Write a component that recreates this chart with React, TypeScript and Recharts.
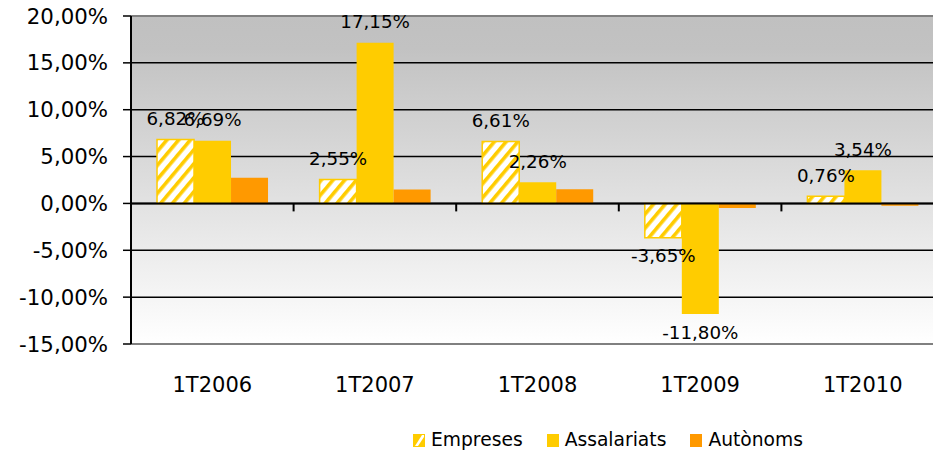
import React from 'react';
import {
  BarChart,
  Bar,
  XAxis,
  YAxis,
  CartesianGrid,
  ReferenceLine,
  Legend,
  LabelList,
} from 'recharts';

const categories = ['1T2006', '1T2007', '1T2008', '1T2009', '1T2010'];
const empreses = [6.82, 2.55, 6.61, -3.65, 0.76];
const assalariats = [6.69, 17.15, 2.26, -11.8, 3.54];
const autonoms = [2.73, 1.49, 1.52, -0.5, -0.25];
const yTicks = [-15, -10, -5, 0, 5, 10, 15, 20];
const seriesNames = ['Empreses', 'Assalariats', 'Autònoms'];

const data = categories.map((cat, i) => ({
  cat,
  empreses: empreses[i],
  assalariats: assalariats[i],
  autonoms: autonoms[i],
}));

const FONT = '"DejaVu Sans", Verdana, sans-serif';
const YELLOW = '#FFCC00';
const ORANGE = '#FF9900';

const fmtPct = (v: number) => v.toFixed(2).replace('.', ',') + '%';

const ValueLabel = (props: any) => {
  const { x, y, width, height, value } = props;
  const top = Math.min(y, y + height);
  const bottom = Math.max(y, y + height);
  const cx = x + width / 2;
  const ty = value >= 0 ? top - 21 : bottom + 18;
  return (
    <text
      x={cx}
      y={ty}
      textAnchor="middle"
      dominantBaseline="central"
      fontSize={18.3}
      fontFamily={FONT}
      fill="#000"
    >
      {fmtPct(value)}
    </text>
  );
};

const LegendIcon = ({ idx }: { idx: number }) => {
  if (idx === 0) {
    return (
      <svg width={12} height={13} style={{ display: 'block' }}>
        <rect x={0.75} y={0.75} width={10.5} height={11.5} fill={YELLOW} stroke={YELLOW} strokeWidth={1.5} />
        <polygon points="2,12 5,12 11,3 11,1 9,1" fill="#fff" />
      </svg>
    );
  }
  return (
    <svg width={12} height={13} style={{ display: 'block' }}>
      <rect x={0} y={0} width={12} height={13} fill={idx === 1 ? YELLOW : ORANGE} />
    </svg>
  );
};

const LegendContent = () => (
  <div
    style={{
      display: 'flex',
      alignItems: 'center',
      paddingLeft: 413,
      paddingTop: 8,
      height: 24,
      fontFamily: FONT,
      fontSize: 18.7,
      color: '#000',
    }}
  >
    {seriesNames.map((n, i) => (
      <div key={n} style={{ display: 'flex', alignItems: 'center', marginRight: 24 }}>
        <LegendIcon idx={i} />
        <span style={{ marginLeft: 6, lineHeight: '24px' }}>{n}</span>
      </div>
    ))}
  </div>
);

export default function App() {
  return (
    <div
      style={{
        position: 'absolute',
        left: 0,
        top: 0,
        width: 933,
        height: 452,
        overflow: 'hidden',
        background: '#fff',
      }}
    >
      <BarChart
        width={944}
        height={452}
        data={data}
        margin={{ top: 16, right: 0, left: 0, bottom: 0 }}
        barCategoryGap="16%"
        barGap={0}
      >
        <defs>
          <linearGradient id="bgGrad" x1="0" y1="0" x2="0" y2="1">
            <stop offset="0" stopColor="#c0c0c0" />
            <stop offset="0.1" stopColor="#c2c2c2" />
            <stop offset="1" stopColor="#ffffff" />
          </linearGradient>
          <pattern
            id="hatch"
            patternUnits="userSpaceOnUse"
            width={9}
            height={9}
            patternTransform="rotate(40)"
          >
            <rect x={0} y={0} width={9} height={9} fill="#ffffff" />
            <rect x={0} y={0} width={3.6} height={9} fill={YELLOW} />
          </pattern>
        </defs>
        <CartesianGrid
          vertical={false}
          stroke="#000"
          strokeWidth={1.5}
          fill="url(#bgGrad)"
          fillOpacity={1}
        />
        <XAxis
          dataKey="cat"
          axisLine={false}
          tickLine={false}
          tickSize={0}
          tickMargin={33}
          height={76}
          interval={0}
          tick={{ fontSize: 21, fontFamily: FONT, fill: '#000' }}
        />
        <YAxis
          width={131}
          domain={[-15, 20]}
          ticks={yTicks}
          interval={0}
          tickFormatter={fmtPct}
          tickSize={8}
          tickMargin={15}
          axisLine={{ stroke: '#000', strokeWidth: 2 }}
          tickLine={{ stroke: '#000', strokeWidth: 1.5 }}
          tick={{ fontSize: 21.3, fontFamily: FONT, fill: '#000' }}
        />
        <Legend verticalAlign="bottom" content={<LegendContent />} wrapperStyle={{ left: 0, bottom: 0, width: 944 }} />
        <Bar
          dataKey="empreses"
          name={seriesNames[0]}
          fill="url(#hatch)"
          stroke={YELLOW}
          strokeWidth={1.5}
          isAnimationActive={false}
        >
          <LabelList dataKey="empreses" content={<ValueLabel />} />
        </Bar>
        <Bar dataKey="assalariats" name={seriesNames[1]} fill={YELLOW} isAnimationActive={false}>
          <LabelList dataKey="assalariats" content={<ValueLabel />} />
        </Bar>
        <Bar dataKey="autonoms" name={seriesNames[2]} fill={ORANGE} isAnimationActive={false} />
        <ReferenceLine y={20} stroke="#808080" strokeWidth={2} />
        <ReferenceLine y={-15} stroke="#808080" strokeWidth={2} />
        <ReferenceLine y={0} stroke="#000" strokeWidth={2} />
        {categories.slice(1).map((c) => (
          <ReferenceLine
            key={c}
            segment={[
              { x: c, y: 0 },
              { x: c, y: -0.85 },
            ]}
            position="start"
            stroke="#000"
            strokeWidth={2}
          />
        ))}
      </BarChart>
    </div>
  );
}
